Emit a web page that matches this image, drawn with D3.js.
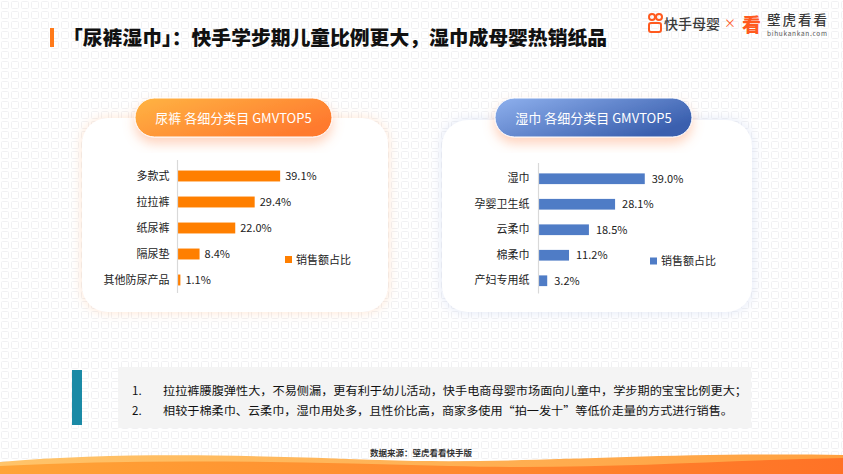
<!DOCTYPE html>
<html>
<head>
<meta charset="utf-8">
<script src="https://cdn.jsdelivr.net/npm/d3@7/dist/d3.min.js"></script>
<style>
  body { margin: 0; background: #fff; }
  svg { display: block; font-family: "Noto Sans CJK SC", "Noto Sans", sans-serif; }
</style>
</head>
<body>
<svg id="chart"></svg>
<script>
////Data
const diaperCats = ["多款式", "拉拉裤", "纸尿裤", "隔尿垫", "其他防尿产品"];
const diaperVals = [39.1, 29.4, 22.0, 8.4, 1.1];
const wipeCats = ["湿巾", "孕婴卫生纸", "云柔巾", "棉柔巾", "产妇专用纸"];
const wipeVals = [39.0, 28.1, 18.5, 11.2, 3.2];
const legendLabel = "销售额占比";
const titleText = "「尿裤湿巾」：快手学步期儿童比例更大，湿巾成母婴热销纸品";
const notes = [
  "拉拉裤腰腹弹性大，不易侧漏，更有利于幼儿活动，快手电商母婴市场面向儿童中，学步期的宝宝比例更大；",
  "相较于棉柔巾、云柔巾，湿巾用处多，且性价比高，商家多使用“拍一发十”等低价走量的方式进行销售。"
];
const sourceText = "数据来源：壁虎看看快手版";

////Global variables
const width = 843;
const height = 474;
const svg = d3.select("#chart").attr("width", width).attr("height", height);
const defs = svg.append("defs");

const setupDefs = () => {
  const pat = defs.append("pattern").attr("id", "grid")
    .attr("width", 10).attr("height", 10).attr("patternUnits", "userSpaceOnUse");
  pat.append("rect").attr("x", 1.5).attr("y", 1.5).attr("width", 7).attr("height", 7)
    .attr("rx", 1).attr("fill", "none").attr("stroke", "#f1f1f3").attr("stroke-width", 1);

  const grad = (id, stops, x2, y2) => {
    const g = defs.append("linearGradient").attr("id", id)
      .attr("x1", 0).attr("y1", 0).attr("x2", x2).attr("y2", y2);
    stops.forEach(s => g.append("stop").attr("offset", s[0]).attr("stop-color", s[1]));
  };
  grad("pillOrange", [[0, "#ffb443"], [1, "#ff7a2e"]], 1, 0.6);
  grad("pillBlue", [[0, "#8fb1ee"], [1, "#3a5fae"]], 1, 0.6);
  grad("waveBack", [[0, "#ffc46a"], [1, "#ffa040"]], 1, 0);
  grad("waveFront", [[0, "#ffa437"], [1, "#ff7226"]], 1, 0);

  const glow = (id, color, op, dy, blur) => {
    const f = defs.append("filter").attr("id", id)
      .attr("x", "-30%").attr("y", "-30%").attr("width", "160%").attr("height", "170%");
    f.append("feDropShadow").attr("dx", 0).attr("dy", dy).attr("stdDeviation", blur)
      .attr("flood-color", color).attr("flood-opacity", op);
  };
  glow("cardOrange", "#ffb27a", 0.35, 0, 6);
  glow("cardBlue", "#b7c6ea", 0.45, 0, 6);
  glow("pillGlow", "#ff9c6a", 0.45, 6, 6);
};

const drawBackground = () => {
  svg.append("rect").attr("width", width).attr("height", height).attr("fill", "#fff");
  svg.append("rect").attr("width", width).attr("height", height).attr("fill", "url(#grid)");

  // bottom wave
  svg.append("path").attr("fill", "url(#waveBack)")
    .attr("d", "M0,462 C120,452 240,455 380,460 C520,465 640,452 843,455 L843,474 L0,474 Z");
  svg.append("path").attr("fill", "url(#waveFront)")
    .attr("d", "M0,466 C150,458 300,462 450,466 C600,470 720,460 843,458 L843,474 L0,474 Z");
};

const drawHeader = () => {
  svg.append("rect").attr("x", 50).attr("y", 28).attr("width", 4).attr("height", 19).attr("fill", "#ff7a1a");
  svg.append("text").attr("x", 63).attr("y", 45)
    .attr("font-size", 19.5).attr("font-weight", 900).attr("fill", "#111")
    .attr("textLength", 544).attr("lengthAdjust", "spacingAndGlyphs")
    .text(titleText);

  // logos
  const lg = svg.append("g");
  lg.append("circle").attr("cx", 652).attr("cy", 17).attr("r", 3).attr("fill", "none").attr("stroke", "#ff5a1f").attr("stroke-width", 2);
  lg.append("circle").attr("cx", 659).attr("cy", 17).attr("r", 3).attr("fill", "none").attr("stroke", "#ff5a1f").attr("stroke-width", 2);
  lg.append("rect").attr("x", 649).attr("y", 23).attr("width", 12).attr("height", 9).attr("rx", 2)
    .attr("fill", "none").attr("stroke", "#ff5a1f").attr("stroke-width", 2);
  lg.append("text").attr("x", 664).attr("y", 29).attr("font-size", 14).attr("fill", "#3a3a3a")
    .attr("font-weight", 500).attr("textLength", 56).text("快手母婴");
  lg.append("text").attr("x", 724).attr("y", 28).attr("font-size", 12).attr("fill", "#ff5a1f").text("×");
  lg.append("text").attr("x", 742).attr("y", 32).attr("font-size", 19).attr("font-weight", 900)
    .attr("fill", "#ff5a1f").text("看");
  lg.append("text").attr("x", 767).attr("y", 25).attr("font-size", 13.5).attr("fill", "#3a3a3a")
    .attr("font-weight", 500).attr("textLength", 60).text("壁虎看看");
  lg.append("text").attr("x", 767).attr("y", 36).attr("font-size", 6.5).attr("fill", "#555")
    .attr("textLength", 60).text("bihukankan.com");
};

const drawPanel = (cfg) => {
  const g = svg.append("g");
  g.append("rect").attr("x", cfg.card[0]).attr("y", cfg.card[1])
    .attr("width", cfg.card[2]).attr("height", cfg.card[3]).attr("rx", 26)
    .attr("fill", "#fff").attr("filter", `url(#${cfg.cardFilter})`);

  // title pill
  g.append("rect").attr("x", cfg.pill[0]).attr("y", cfg.pill[1])
    .attr("width", cfg.pill[2]).attr("height", cfg.pill[3]).attr("rx", cfg.pill[3] / 2)
    .attr("fill", `url(#${cfg.pillFill})`).attr("stroke", "#fff").attr("stroke-width", 1)
    .attr("filter", "url(#pillGlow)");
  g.append("text").attr("x", cfg.pill[0] + cfg.pill[2] / 2).attr("y", cfg.pill[1] + cfg.pill[3] / 2 + 5)
    .attr("text-anchor", "middle").attr("font-size", 13).attr("fill", "#fff")
    .text(cfg.title);

  const x = d3.scaleLinear().domain([0, 40]).range([cfg.axisX, cfg.axisX + cfg.span]);
  const y = d3.scaleBand().domain(cfg.cats).range(cfg.yRange).paddingInner(0.58).paddingOuter(0.29);
  const data = cfg.cats.map((c, i) => ({ cat: c, val: cfg.vals[i] }));

  g.selectAll(".bar").data(data).enter().append("rect")
    .attr("class", "bar")
    .attr("x", x(0)).attr("y", d => y(d.cat))
    .attr("width", d => x(d.val) - x(0)).attr("height", y.bandwidth())
    .attr("fill", cfg.color);

  g.selectAll(".val").data(data).enter().append("text")
    .attr("x", d => x(d.val) + cfg.labelGap).attr("y", d => y(d.cat) + y.bandwidth() / 2 + 4)
    .attr("font-size", 11).attr("fill", "#222")
    .text(d => d.val.toFixed(1) + "%");

  const yAxis = d3.axisLeft(y).tickSize(0).tickPadding(cfg.tickPad);
  const ax = g.append("g").attr("transform", `translate(${x(0)},0)`).call(yAxis);
  ax.select(".domain").attr("stroke", "#d9d9d9").attr("stroke-width", 1.2)
    .attr("d", `M0,${cfg.yRange[0] - 3}V${cfg.yRange[1]}`);
  ax.selectAll(".tick text").attr("font-size", 11).attr("fill", "#222")
    .attr("font-family", "Noto Sans CJK SC");

  g.append("rect").attr("x", cfg.legend[0]).attr("y", cfg.legend[1] - 3.5)
    .attr("width", 7).attr("height", 7).attr("fill", cfg.color);
  g.append("text").attr("x", cfg.legend[0] + 11).attr("y", cfg.legend[1] + 4)
    .attr("font-size", 11).attr("fill", "#222").text(legendLabel);
};

const drawNotes = () => {
  svg.append("rect").attr("x", 118).attr("y", 367).attr("width", 633).attr("height", 61).attr("fill", "#f4f4f4");
  svg.append("rect").attr("x", 72).attr("y", 370).attr("width", 10).attr("height", 55).attr("fill", "#1b8aa6");
  const ends = [747, 733];
  notes.forEach((n, i) => {
    const ty = 395 + i * 20;
    svg.append("text").attr("x", 132).attr("y", ty).attr("font-size", 11.5).attr("fill", "#111")
      .text((i + 1) + ".");
    svg.append("text").attr("x", 163).attr("y", ty).attr("font-size", 11.5).attr("fill", "#111")
      .attr("textLength", ends[i] - 163).attr("lengthAdjust", "spacingAndGlyphs").text(n);
  });
  svg.append("text").attr("x", 421).attr("y", 456).attr("text-anchor", "middle")
    .attr("font-size", 8.5).attr("font-weight", 700).attr("fill", "#333").text(sourceText);
};

setupDefs();
drawBackground();
drawHeader();
drawPanel({
  card: [82, 118, 306, 194], cardFilter: "cardOrange",
  pill: [135, 98, 197, 39], pillFill: "pillOrange",
  title: "尿裤 各细分类目 GMVTOP5",
  cats: diaperCats, vals: diaperVals, color: "#ff7f00",
  axisX: 177.5, span: 105, yRange: [163, 293], labelGap: 5, tickPad: 8,
  legend: [285, 259.5]
});
drawPanel({
  card: [442, 120, 310, 192], cardFilter: "cardBlue",
  pill: [495, 98, 197, 39], pillFill: "pillBlue",
  title: "湿巾 各细分类目 GMVTOP5",
  cats: wipeCats, vals: wipeVals, color: "#4f7cc6",
  axisX: 538.5, span: 109, yRange: [166, 293.5], labelGap: 7, tickPad: 9,
  legend: [650, 261]
});
drawNotes();
</script>
</body>
</html>
